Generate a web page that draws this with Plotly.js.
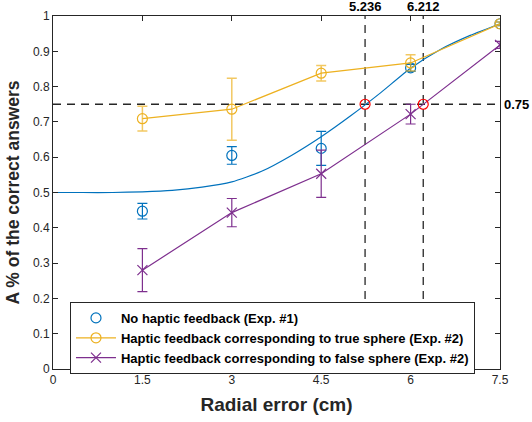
<!DOCTYPE html>
<html><head><meta charset="utf-8">
<script src="https://cdn.plot.ly/plotly-3.0.1.min.js"></script>
<style>html,body{margin:0;padding:0;background:#fff}#chart{width:532px;height:422px}</style>
</head><body><div id="chart"></div>
<script>
const xLevels = [1.5, 3, 4.5, 6, 7.5];
const noHaptic = [0.447, 0.605, 0.625, 0.853, 0.978];
const noHapticErr = [0.022, 0.025, 0.048, 0.01, 0.005];
const trueSphere = [0.709, 0.736, 0.838, 0.867, 0.978];
const trueSphereErr = [0.035, 0.088, 0.022, 0.023, 0.005];
const falseSphere = [0.28, 0.443, 0.553, 0.722, 0.918];
const falseSphereErr = [0.061, 0.04, 0.067, 0.028, 0.01];
const fitX = [0, 0.5, 1, 1.5, 2, 2.5, 3, 3.5, 4, 4.5, 5, 5.5, 6, 6.5, 7, 7.5];
const fitY = [0.5, 0.5, 0.5, 0.502, 0.506, 0.515, 0.53, 0.56, 0.605, 0.658, 0.718, 0.783, 0.852, 0.905, 0.945, 0.978];
const thresholdLevel = 0.75;
const thresholdX = [5.236, 6.212];
const thresholdLabels = ['5.236', '6.212'];
const xTicks = [0, 1.5, 3, 4.5, 6, 7.5];
const yTicks = [0, 0.1, 0.2, 0.3, 0.4, 0.5, 0.6, 0.7, 0.8, 0.9, 1];
const yTickText = ['0', '0.1', '0.2', '0.3', '0.4', '0.5', '0.6', '0.7', '0.8', '0.9', '1'];
const names = ['No haptic feedback (Exp. #1)', 'Haptic feedback corresponding to true sphere (Exp. #2)', 'Haptic feedback corresponding to false sphere (Exp. #2)'];

const BLUE = '#0072BD', YEL = '#EDB120', PUR = '#7E2F8E';
const FONT = 'Liberation Sans, Arial, Helvetica, sans-serif';

const traces = [
  {x: fitX, y: fitY, mode: 'lines', line: {color: BLUE, width: 1.2, shape: 'spline', smoothing: 0.6}, showlegend: false, hoverinfo: 'skip'},
  {x: xLevels, y: noHaptic, mode: 'markers', name: names[0],
   marker: {symbol: 'circle-open', size: 10, color: BLUE, line: {width: 1.2}},
   error_y: {type: 'data', array: noHapticErr, color: BLUE, thickness: 1.2, width: 5}},
  {x: xLevels, y: trueSphere, mode: 'lines+markers', name: names[1],
   line: {color: YEL, width: 1.2},
   marker: {symbol: 'circle-open', size: 10, color: YEL, line: {width: 1.2}},
   error_y: {type: 'data', array: trueSphereErr, color: 'rgba(237,177,32,0.7)', thickness: 1.5, width: 5}},
  {x: xLevels, y: falseSphere, mode: 'lines+markers', name: names[2],
   line: {color: PUR, width: 1.2},
   marker: {symbol: 'x-thin-open', size: 10, color: PUR, line: {width: 1.2, color: PUR}},
   error_y: {type: 'data', array: falseSphereErr, color: PUR, thickness: 1.2, width: 5}},
  {x: thresholdX, y: thresholdX.map(() => thresholdLevel), mode: 'markers', showlegend: false,
   marker: {symbol: 'circle-open', size: 10, color: '#FF0000', line: {width: 1.2}}}
];

const shapes = [
  {type: 'line', xref: 'x', yref: 'y', x0: xTicks[0], x1: xTicks[xTicks.length-1], y0: thresholdLevel, y1: thresholdLevel,
   line: {color: '#262626', width: 1.3, dash: '8px,6px'}, layer: 'below'}
].concat(thresholdX.map(v => ({type: 'line', xref: 'x', yref: 'y', x0: v, x1: v, y0: 0, y1: 1,
   line: {color: '#262626', width: 1.3, dash: '8px,6px'}, layer: 'below'})));

const annotations = thresholdX.map((v, i) => ({x: v, y: 1, xref: 'x', yref: 'y', text: thresholdLabels[i], showarrow: false,
  yanchor: 'bottom', yshift: 0, font: {family: FONT, size: 13, color: '#000', weight: 'bold'}}))
 .concat([{x: 1, xref: 'paper', y: thresholdLevel, yref: 'y', text: String(thresholdLevel), showarrow: false,
  xanchor: 'left', xshift: 2, font: {family: FONT, size: 13, color: '#000', weight: 'bold'}}]);

const axisCommon = {showline: true, mirror: 'ticks', linecolor: '#262626', linewidth: 1, ticks: 'inside', ticklen: 5,
  tickcolor: '#262626', showgrid: false, zeroline: false, tickfont: {family: FONT, size: 12, color: '#262626'}};

const layout = {
  width: 532, height: 422,
  margin: {l: 53, r: 32, t: 16, b: 53},
  paper_bgcolor: '#fff', plot_bgcolor: '#fff',
  font: {family: FONT},
  xaxis: Object.assign({}, axisCommon, {range: [0, 7.5], tickvals: xTicks, ticktext: xTicks.map(String),
    title: {text: 'Radial error (cm)', font: {family: FONT, size: 19, color: '#262626', weight: 'bold'}, standoff: 11}}),
  yaxis: Object.assign({}, axisCommon, {range: [0, 1], tickvals: yTicks, ticktext: yTickText,
    title: {text: 'A % of the correct answers', font: {family: FONT, size: 17.5, color: '#262626', weight: 'bold'}, standoff: 8}}),
  showlegend: true,
  legend: {x: 0.038, y: 0.19, xanchor: 'left', yanchor: 'top', bgcolor: '#fff', bordercolor: '#262626', borderwidth: 1,
    font: {family: FONT, size: 13, color: '#000', weight: 'bold'}, tracegroupgap: 0, itemwidth: 40},
  shapes: shapes,
  annotations: annotations
};

Plotly.newPlot('chart', traces, layout, {displayModeBar: false, staticPlot: true});
</script></body></html>
